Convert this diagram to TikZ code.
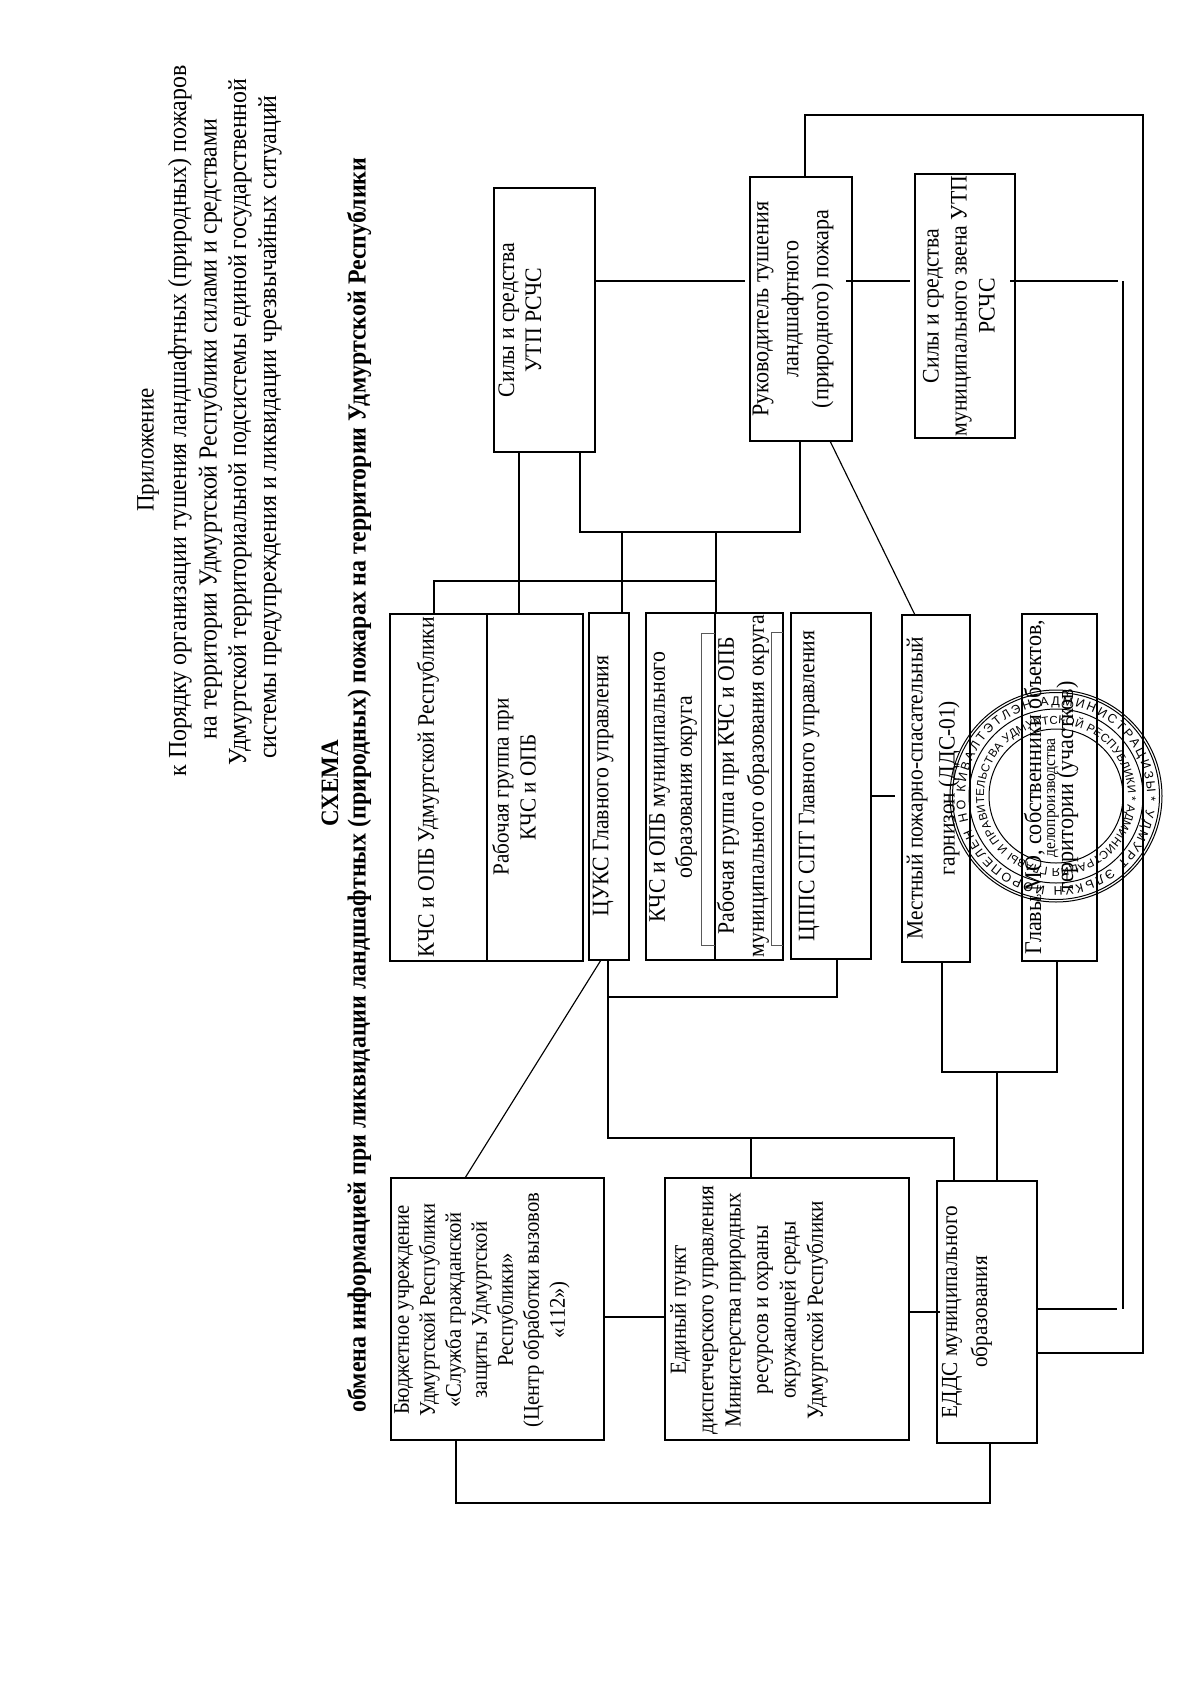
\documentclass[tikz,border=0pt]{standalone}
\usepackage{fontspec}
\setmainfont[FakeStretch=0.92]{Liberation Serif}
\newfontfamily\stampfont{Liberation Sans}
\usetikzlibrary{decorations.text}
\newcommand{\bx}[5]{\node[boxn, minimum width={(#4-#2)*1pt}, minimum height={(#5-#3)*1pt}] (#1) at ({(#2+#4)/2},{(#3+#5)/2}) {};}
\tikzset{
  boxn/.style={draw=black, line width=1.15pt, inner sep=0pt, outer sep=0pt},
  lbl/.style={rotate=90, align=center, inner sep=0pt, font=\fontsize{23.7}{27}\selectfont},
  head/.style={rotate=90, inner sep=0pt, font=\fontsize{26}{29}\selectfont},
  headb/.style={rotate=90, inner sep=0pt, font=\bfseries\fontsize{26}{29}\selectfont},
  conn/.style={line width=1.15pt, line join=miter},
  innerbox/.style={draw=black!65, line width=1pt},
  stampline/.style={draw=black, line width=1pt},
}
\begin{document}
\begin{tikzpicture}[x=1pt,y=-1pt]
\path[fill=white] (0,0) rectangle (1200,1697);
\useasboundingbox (0,0) rectangle (1200,1697);

% headings
\node[head,font=\fontsize{25}{29}\selectfont] (h0) at (148,450) {Приложение};
\node[head] (h1) at (180,421) {к Порядку организации тушения ландшафтных (природных) пожаров};
\node[head] (h2) at (210,429) {на территории Удмуртской Республики силами и средствами};
\node[head] (h3) at (240,422) {Удмуртской территориальной подсистемы единой государственной};
\node[head] (h4) at (270,427) {системы предупреждения и ликвидации чрезвычайных ситуаций};
\node[headb,font=\bfseries\fontsize{25}{29}\selectfont] (h5) at (330,783) {СХЕМА};
\node[headb] (h6) at (359,785) {обмена информацией при ликвидации ландшафтных (природных) пожарах на территории Удмуртской Республики};

% boxes
\bx{kchs}{390}{614}{487}{961}
\bx{rabg}{487}{614}{583}{961}
\bx{cuks}{589}{613}{629}{960}
\bx{kchsm}{646}{613}{715}{960}
\bx{rabm}{715}{613}{783}{960}
\bx{cpps}{791}{613}{871}{959}
\bx{mest}{902}{615}{970}{962}
\bx{glav}{1022}{614}{1097}{961}
\bx{sily}{494}{188}{595}{452}
\bx{ruk}{750}{177}{852}{441}
\bx{silm}{915}{174}{1015}{438}
\bx{budj}{391}{1178}{604}{1440}
\bx{edin}{665}{1178}{909}{1440}
\bx{edds}{937}{1181}{1037}{1443}

% inner frames
\draw[innerbox] (715,633) -- (701,633) -- (701,945) -- (715,945);
\draw[innerbox] (783,632) -- (771,632) -- (771,945) -- (783,945);

% labels
\node[lbl] (t1) at (428,787) {КЧС и ОПБ Удмуртской Республики};
\node[lbl,font=\fontsize{23}{27}\selectfont] (t2) at (514,787) {Рабочая группа при\\КЧС и ОПБ};
\node[lbl] (t3) at (603,786) {ЦУКС Главного управления};
\node[lbl] (t4) at (673,787) {КЧС и ОПБ муниципального\\образования округа};
\node[lbl,font=\fontsize{23.7}{30}\selectfont] (t5) at (743,786) {Рабочая группа при КЧС и ОПБ\\муниципального образования округа};
\node[lbl,font=\fontsize{23.6}{27}\selectfont] (t6) at (809,786) {ЦППС СПТ Главного управления};
\node[lbl,font=\fontsize{23.3}{32}\selectfont] (t7) at (933,788) {Местный пожарно-спасательный\\гарнизон (ДДС-01)};
\node[lbl,font=\fontsize{24}{32}\selectfont] (t8) at (1051,787) {Главы МО, собственники объектов,\\территории (участков)};
\node[lbl] (t9) at (520,320) {Силы и средства\\УТП РСЧС};
\node[lbl,font=\fontsize{24}{30}\selectfont] (t10) at (793,309) {Руководитель тушения\\ландшафтного\\(природного) пожара};
\node[lbl,font=\fontsize{23.7}{28}\selectfont] (t11) at (959,306) {Силы и средства\\муниципального звена УТП\\РСЧС};
\node[lbl,font=\fontsize{22.4}{26}\selectfont] (t12) at (482,1310) {Бюджетное учреждение\\Удмуртской Республики\\«Служба гражданской\\защиты Удмуртской\\Республики»\\(Центр обработки вызовов\\«112»)};
\node[lbl,font=\fontsize{23}{27.4}\selectfont] (t13) at (749,1310) {Единый пункт\\диспетчерского управления\\Министерства природных\\ресурсов и охраны\\окружающей среды\\Удмуртской Республики};
\node[lbl,font=\fontsize{23}{30}\selectfont] (t14) at (967,1312) {ЕДДС муниципального\\образования};

% junctions
\coordinate (a1) at (580,532);
\coordinate (a2) at (800,532);
\coordinate (a3) at (622,532);
\coordinate (a4) at (716,532);
\coordinate (a5) at (434,581);
\coordinate (a6) at (716,581);
\coordinate (a7) at (519,581);
\coordinate (b1) at (805,115);
\coordinate (b2) at (1143,115);
\coordinate (b3) at (1143,1353);
\coordinate (b4) at (1123,281);
\coordinate (b5) at (1123,1309);
\coordinate (b6) at (1117,1309);
\coordinate (c1) at (745,281);
\coordinate (c2) at (846,281);
\coordinate (c3) at (910,281);
\coordinate (c4) at (1010,281);
\coordinate (c5) at (1118,281);
\coordinate (d1) at (830,441);
\coordinate (d2) at (915,615);
\coordinate (d3) at (895,796);
\coordinate (e1) at (608,997);
\coordinate (e2) at (837,997);
\coordinate (e3) at (608,1138);
\coordinate (e4) at (751,1138);
\coordinate (e5) at (954,1138);
\coordinate (f1) at (942,1072);
\coordinate (f2) at (1057,1072);
\coordinate (f3) at (997,1072);
\coordinate (g1) at (456,1503);
\coordinate (g2) at (990,1503);
\coordinate (k1) at (465,1178);
\coordinate (k2) at (601,960);
\coordinate (m1) at (605,1317);
\coordinate (m2) at (666,1317);
\coordinate (m3) at (909,1312);
\coordinate (m4) at (940,1312);

% connectors
\draw[conn] (sily.south -| a1) -- (a1) -- (a2) -- (ruk.south -| a2);
\draw[conn] (a3) -- (cuks.north -| a3);
\draw[conn] (a4) -- (rabm.north -| a4);
\draw[conn] (kchs.north -| a5) -- (a5) -- (a6);
\draw[conn] (sily.south -| a7) -- (rabg.north -| a7);
\draw[conn] (ruk.north -| b1) -- (b1) -- (b2) -- (b3) -- (edds.east |- b3);
\draw[conn] (c4) -- (c5);
\draw[conn] (b4) -- (b5);
\draw[conn] (edds.east |- b6) -- (b6);
\draw[conn] (sily.east |- c1) -- (c1);
\draw[conn] (c2) -- (c3);
\draw[conn] (d1) -- (d2);
\draw[conn] (cpps.east |- d3) -- (d3);
\draw[conn] (cuks.south -| e1) -- (e3) -- (e5) -- (edds.north -| e5);
\draw[conn] (e1) -- (e2) -- (cpps.south -| e2);
\draw[conn] (e4) -- (edin.north -| e4);
\draw[conn] (mest.south -| f1) -- (f1) -- (f2) -- (glav.south -| f2);
\draw[conn] (f3) -- (edds.north -| f3);
\draw[conn] (budj.south -| g1) -- (g1) -- (g2) -- (edds.south -| g2);
\draw[conn] (k1) -- (k2);
\draw[conn] (m1) -- (m2);
\draw[conn] (m3) -- (m4);

% stamp
\begin{scope}[shift={(1056,796)},x=1pt,y=1pt]
  \draw[stampline] (0,0) circle (106);
  \draw[stampline] (0,0) circle (103.5);
  \draw[stampline] (0,0) circle (87);
  \draw[stampline] (0,0) circle (67);
  \path[decorate,decoration={text along path,text align=fit to path,
     text={|\stampfont\fontsize{12.5}{12.5}\selectfont|* УДМУРТ ЭЛЬКУН ЙОРОПЕЛЕН НО КИВАЛТЭТЛЭН АДМИНИСТРАЦИЗЫ }}]
     (0:91) arc (0:-358:91);
  \path[decorate,decoration={text along path,text align=fit to path,
     text={|\stampfont\fontsize{11.5}{11.5}\selectfont|* АДМИНИСТРАЦИЯ ГЛАВЫ И ПРАВИТЕЛЬСТВА УДМУРТСКОЙ РЕСПУБЛИКИ }}]
     (0:72) arc (0:-358:72);
  \node[rotate=90,inner sep=0pt,font=\fontsize{17}{17}\selectfont] (st1) at (-3,-2) {делопроизводства};
\end{scope}
\end{tikzpicture}
\end{document}
